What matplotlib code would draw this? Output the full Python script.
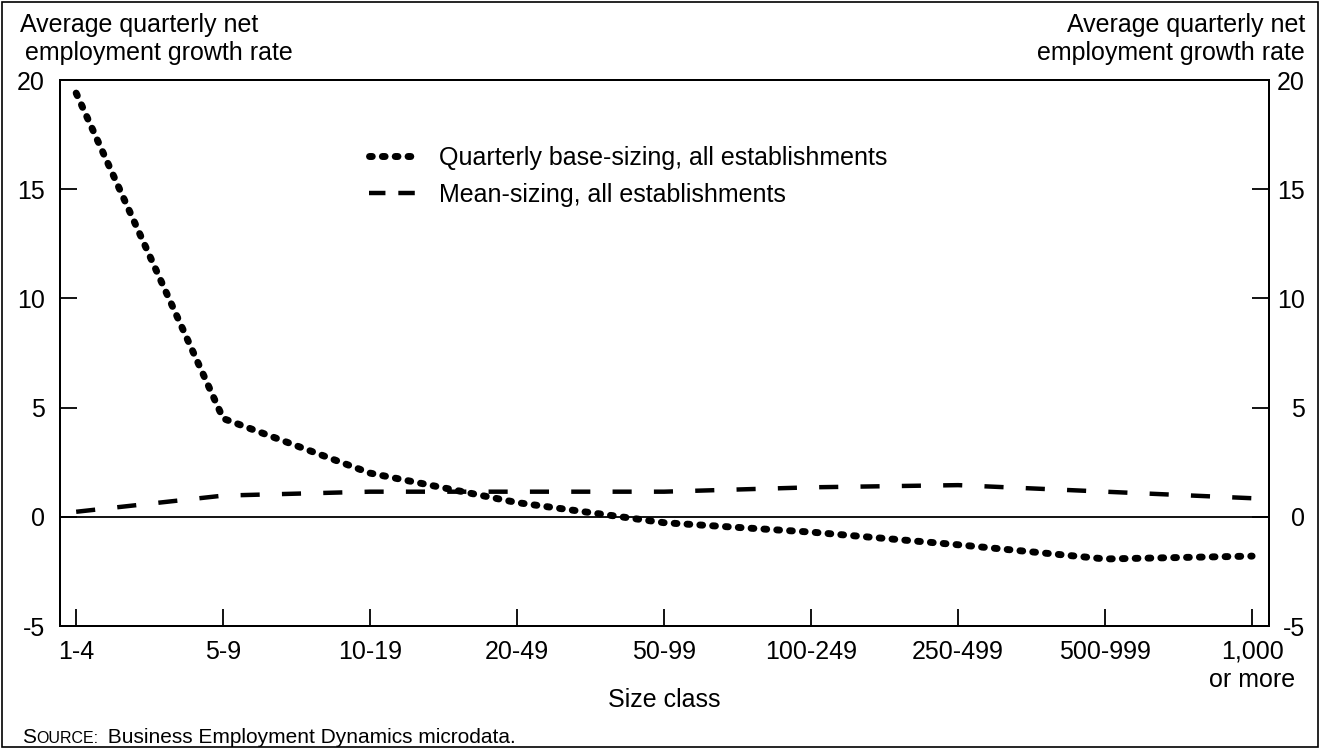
import matplotlib
matplotlib.use("Agg")
import matplotlib.pyplot as plt
from matplotlib.patches import Rectangle
from matplotlib.lines import Line2D
import numpy as np

plt.rcParams['font.family'] = ['Liberation Sans', 'DejaVu Sans']

# size classes and the two series (percent)
size_classes = ["1-4", "5-9", "10-19", "20-49", "50-99", "100-249",
                "250-499", "500-999", "1,000\nor more"]
base_sizing = [19.4, 4.5, 2.0, 0.65, -0.27, -0.7, -1.28, -1.93, -1.8]
mean_sizing = [0.23, 0.97, 1.15, 1.15, 1.15, 1.35, 1.45, 1.15, 0.85]
yticks = [-5, 0, 5, 10, 15, 20]
labels = ['Quarterly base-sizing, all establishments', 'Mean-sizing, all establishments']

FS = 18
#--------------------------------------
fig = plt.figure(figsize=(13.2, 7.49), dpi=100)
ax = fig.add_axes([60/1320, 1-626/749, (1269-60)/1320, (626-80)/749])
x = np.arange(len(size_classes))

ax.plot(x, base_sizing, color='black', lw=5.0, linestyle=(0, (0.4, 1.45)),
        dash_capstyle='round')
ax.plot(x, mean_sizing, color='black', lw=3.2, linestyle=(0, (4.3, 5.0)),
        dash_capstyle='butt')
ax.axhline(0, color='black', lw=1.3)

ax.set_xlim(-0.11, len(size_classes) - 1 + 0.115)
ax.set_ylim(-5, 20)
ax.set_xticks(x)
ax.set_xticklabels(size_classes, fontsize=FS, linespacing=1.2)
ax.set_yticks(yticks)
ax.set_yticklabels([str(v) for v in yticks], fontsize=FS)
ax.tick_params(axis='x', direction='in', length=12, width=1.3, pad=10)
ax.tick_params(axis='y', direction='in', length=12, width=1.3, pad=11)
for s in ax.spines.values():
    s.set_linewidth(1.4)

# right axis, same scale
ax2 = ax.twinx()
ax2.set_ylim(-5, 20)
ax2.set_yticks(yticks)
ax2.set_yticklabels([str(v) for v in yticks], fontsize=FS, ha='right')
ax2.tick_params(axis='y', direction='in', length=12, width=1.3, pad=26)
for s in ax2.spines.values():
    s.set_linewidth(1.4)

# legend proxies so the short handles show whole dots / dashes
h1 = Line2D([], [], color='black', lw=5.0, linestyle=(0, (0.4, 1.45)), dash_capstyle='round')
h2 = Line2D([], [], color='black', lw=3.2, linestyle=(0, (3.7, 2.9)), dash_capstyle='butt')
ax.legend([h1, h2], labels, loc='upper left', bbox_to_anchor=(0.237, 0.92), frameon=False,
          fontsize=FS, handlelength=1.85, handletextpad=0.95, labelspacing=0.5)

# axis titles
fig.text(20/1320, 1-25/749, "Average quarterly net", fontsize=FS, ha='left', va='center')
fig.text(25/1320, 1-53/749, "employment growth rate", fontsize=FS, ha='left', va='center')
fig.text(1305/1320, 1-25/749, "Average quarterly net", fontsize=FS, ha='right', va='center')
fig.text(1305/1320, 1-53/749, "employment growth rate", fontsize=FS, ha='right', va='center')
fig.text(664/1320, 1-700/749, "Size class", fontsize=FS, ha='center', va='center')

# source note with small caps
t1 = fig.text(22/1320, 1-743/749, "S", fontsize=15, ha='left', va='baseline')
fig.canvas.draw()
bb = t1.get_window_extent()
t2 = fig.text(bb.x1/1320, 1-743/749, "OURCE:", fontsize=11.5, ha='left', va='baseline')
fig.canvas.draw()
bb = t2.get_window_extent()
fig.text(bb.x1/1320 + 4/1320, 1-743/749, " Business Employment Dynamics microdata.",
         fontsize=15, ha='left', va='baseline')

fig.patches.append(Rectangle((2/1320, 2/749), 1-4/1320, 1-4/749, transform=fig.transFigure,
                             fill=False, edgecolor='black', lw=1.2))

fig.savefig("out.png", dpi=100)
